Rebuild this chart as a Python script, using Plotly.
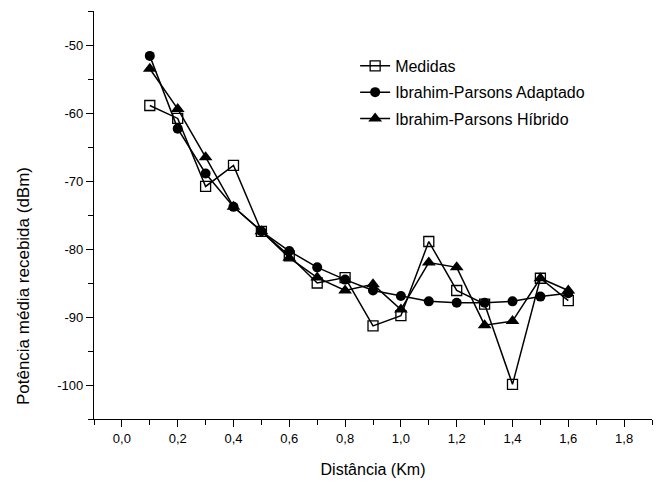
import plotly.graph_objects as go

distancia = [0.1, 0.2, 0.3, 0.4, 0.5, 0.6, 0.7, 0.8, 0.9, 1.0, 1.1, 1.2, 1.3, 1.4, 1.5, 1.6]
medidas = [-58.9, -60.8, -70.8, -67.7, -77.4, -81.0, -85.0, -84.2, -91.3, -89.8, -78.9, -86.1, -88.1, -99.9, -84.3, -87.6]
adaptado = [-51.6, -62.3, -68.9, -73.8, -77.4, -80.3, -82.7, -84.5, -86.1, -86.9, -87.7, -87.9, -87.9, -87.7, -87.0, -86.5]
hibrido = [-53.5, -59.4, -66.5, -73.8, -77.4, -81.3, -84.2, -86.1, -85.2, -88.9, -82.0, -82.7, -91.2, -90.6, -84.3, -86.1]

x_tickvals = [0.0, 0.2, 0.4, 0.6, 0.8, 1.0, 1.2, 1.4, 1.6, 1.8]
x_ticktext = ["0,0", "0,2", "0,4", "0,6", "0,8", "1,0", "1,2", "1,4", "1,6", "1,8"]
y_tickvals = [-100, -90, -80, -70, -60, -50]
y_ticktext = ["-100", "-90", "-80", "-70", "-60", "-50"]

FONT = "Liberation Sans, Arial, sans-serif"

fig = go.Figure()
fig.add_trace(go.Scatter(
    x=distancia, y=medidas, name="Medidas", mode="lines+markers", legendgroup="a",
    line=dict(color="black", width=1.5),
    marker=dict(symbol="square-open", size=10, color="black", line=dict(width=1.3, color="black")),
))
fig.add_trace(go.Scatter(
    x=distancia, y=adaptado, name="Ibrahim-Parsons Adaptado", mode="lines+markers", legendgroup="b",
    line=dict(color="black", width=1.5),
    marker=dict(symbol="circle", size=10, color="black"),
))
fig.add_trace(go.Scatter(
    x=distancia, y=hibrido, name="Ibrahim-Parsons Híbrido", mode="lines+markers", legendgroup="c",
    line=dict(color="black", width=1.5),
    marker=dict(symbol="triangle-up", size=12, color="black"),
))

fig.update_layout(
    width=665, height=487,
    margin=dict(l=93.5, r=13, t=11.3, b=62.7),
    paper_bgcolor="white", plot_bgcolor="white",
    font=dict(family=FONT, size=13, color="black"),
    showlegend=True,
    legend=dict(
        x=0.468, y=0.907, xanchor="left", yanchor="top",
        traceorder="grouped", tracegroupgap=2.5,
        bgcolor="rgba(0,0,0,0)", font=dict(family=FONT, size=16, color="black"),
    ),
    annotations=[dict(
        text="Potência média recebida (dBm)", textangle=-90,
        xref="paper", yref="paper", x=-0.126, y=0.325,
        xanchor="center", yanchor="middle", showarrow=False,
        font=dict(family=FONT, size=17, color="black"),
    )],
)
fig.update_xaxes(
    range=[-0.1, 1.9], showgrid=False, zeroline=False,
    showline=True, linecolor="black", linewidth=1.2,
    ticks="outside", ticklen=7, tickwidth=1.2, tickcolor="black",
    tickvals=x_tickvals, ticktext=x_ticktext,
    minor=dict(ticks="outside", ticklen=5, tickwidth=1.2, tickcolor="black", dtick=0.1, tick0=-0.1),
    tickfont=dict(family=FONT, size=13),
    title=dict(text="Distância (Km)", font=dict(family=FONT, size=16), standoff=19),
)
fig.update_yaxes(
    range=[-105, -45], showgrid=False, zeroline=False,
    showline=True, linecolor="black", linewidth=1.2,
    ticks="outside", ticklen=7, tickwidth=1.2, tickcolor="black",
    tickvals=y_tickvals, ticktext=y_ticktext,
    minor=dict(ticks="outside", ticklen=5, tickwidth=1.2, tickcolor="black", dtick=5, tick0=-105),
    tickfont=dict(family=FONT, size=13),
)

fig.write_html("out.html", config={"displayModeBar": False},
               post_script="document.body.style.margin='0px';")
